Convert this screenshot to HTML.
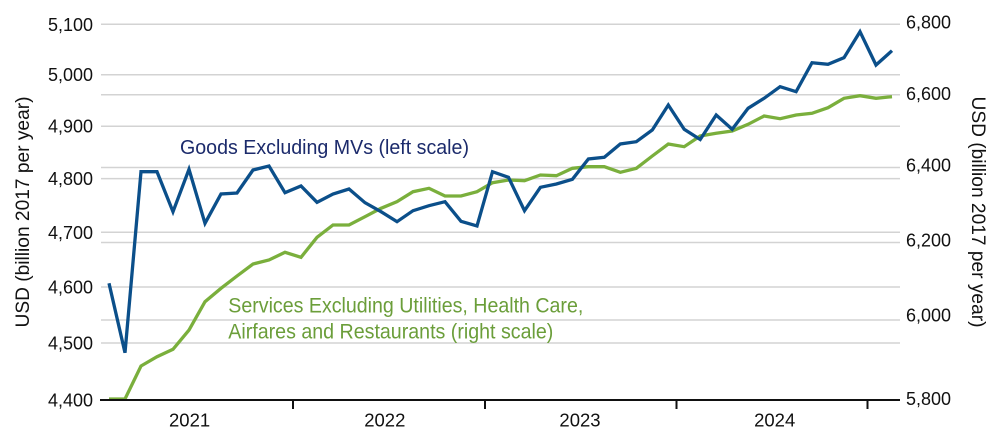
<!DOCTYPE html>
<html>
<head>
<meta charset="utf-8">
<style>
html,body{margin:0;padding:0;background:#fff;}
svg{display:block;}
text{font-family:"Liberation Sans",Arial,sans-serif;}
</style>
</head>
<body>
<svg width="1000" height="440" viewBox="0 0 1000 440" xmlns="http://www.w3.org/2000/svg">
  <!-- gridlines left scale -->
  <g stroke="#d3d3d3" stroke-width="1.5">
    <line x1="101" y1="24.3" x2="900" y2="24.3"/>
    <line x1="101" y1="74.7" x2="900" y2="74.7"/>
    <line x1="101" y1="126.2" x2="900" y2="126.2"/>
    <line x1="101" y1="178.6" x2="900" y2="178.6"/>
    <line x1="101" y1="232.3" x2="900" y2="232.3"/>
    <line x1="101" y1="287" x2="900" y2="287"/>
    <line x1="101" y1="343" x2="900" y2="343"/>
    <!-- right scale -->
    <line x1="101" y1="94.8" x2="900" y2="94.8"/>
    <line x1="101" y1="167.5" x2="900" y2="167.5"/>
    <line x1="101" y1="242.5" x2="900" y2="242.5"/>
    <line x1="101" y1="320" x2="900" y2="320"/>
  </g>

  <!-- green series -->
  <polyline fill="none" stroke="#7aaf3c" stroke-width="3.3" stroke-linejoin="miter" points="
109,399 125,399 141,366 157,356.7 173,349.3 189,330 205,301.7 221,288.3 237,276 253,264 269,260 285,252.3
301,257.3 317,237.3 333,225 349,225 365,216.7 381,208.3 397,201.7 413,191.7 429,188.3 445,196 461,196 477,191.7
492.5,182.7 508.5,180 524.5,180.7 540.4,175 556.4,175.7 572.4,168.3 588.4,166.7 604.3,166.7 620.3,172.3 636.3,168.3 652.3,156 668.3,144
684.2,146.7 700.2,136 716.2,133.3 732.2,131 748.1,124.3 764.1,116 780.1,118.7 796.1,115 812,113.3 828,107.7 844,98.3 860,95.7 876,98.3 892,96.7"/>

  <!-- blue series -->
  <polyline fill="none" stroke="#0b4f8a" stroke-width="3.3" stroke-linejoin="miter" stroke-miterlimit="6" points="
109,283.3 125,352.7 141,171.7 157,171.7 173,211.7 189,169.3 205,223.3 221,194 237,193 253,170 269,166 285,192.7
301,186 317,202.3 333,194 349,189 365,202.7 381,211.7 397,221.7 413,210.7 429,205.7 445,201.7 461,221.3 477,226
492.5,171.7 508.5,177.3 524.5,210.7 540.4,187.3 556.4,184 572.4,179.3 588.4,159 604.3,157.3 620.3,144 636.3,141.7 652.3,130 668.3,105
684.2,129.3 700.2,139.5 716.2,115 732.2,129.3 748.1,108.3 764.1,98.3 780.1,86.7 796.1,91.7 812,62.7 828,64.3 844,57.7 860,31.7 876,65 892,50.7"/>

  <!-- x axis -->
  <line x1="100" y1="400" x2="900" y2="400" stroke="#111" stroke-width="2"/>
  <g stroke="#111" stroke-width="2">
    <line x1="293" y1="400" x2="293" y2="409"/>
    <line x1="485" y1="400" x2="485" y2="409"/>
    <line x1="676.5" y1="400" x2="676.5" y2="409"/>
    <line x1="867.5" y1="400" x2="867.5" y2="409"/>
  </g>

  <!-- year labels -->
  <g font-size="18.5" fill="#111" text-anchor="middle">
    <text x="189.6" y="426.7">2021</text>
    <text x="384.8" y="426.7">2022</text>
    <text x="580" y="426.7">2023</text>
    <text x="774.7" y="426.7">2024</text>
  </g>

  <!-- left tick labels -->
  <g font-size="18" fill="#111" text-anchor="end">
    <text x="93" y="30.8">5,100</text>
    <text x="93" y="81.2">5,000</text>
    <text x="93" y="132.7">4,900</text>
    <text x="93" y="185.1">4,800</text>
    <text x="93" y="238.8">4,700</text>
    <text x="93" y="293.5">4,600</text>
    <text x="93" y="349.5">4,500</text>
    <text x="93" y="406.5">4,400</text>
  </g>

  <!-- right tick labels -->
  <g font-size="18" fill="#111" text-anchor="start">
    <text x="906" y="28.5">6,800</text>
    <text x="906" y="99.8">6,600</text>
    <text x="906" y="171.5">6,400</text>
    <text x="906" y="246.5">6,200</text>
    <text x="906" y="321.5">6,000</text>
    <text x="906" y="405">5,800</text>
  </g>

  <!-- axis titles -->
  <text transform="translate(29,212) rotate(-90)" font-size="19" fill="#111" text-anchor="middle" textLength="231" lengthAdjust="spacingAndGlyphs">USD (billion 2017 per year)</text>
  <text transform="translate(972,212) rotate(90)" font-size="19" fill="#111" text-anchor="middle" textLength="231" lengthAdjust="spacingAndGlyphs">USD (billion 2017 per year)</text>

  <!-- series labels -->
  <text x="180" y="154" font-size="20.5" fill="#1b2a6b" textLength="289" lengthAdjust="spacingAndGlyphs">Goods Excluding MVs (left scale)</text>
  <text x="228.3" y="312.3" font-size="21" fill="#6b9e3a" textLength="355" lengthAdjust="spacingAndGlyphs">Services Excluding Utilities, Health Care,</text>
  <text x="228.3" y="338.3" font-size="21" fill="#6b9e3a" textLength="325" lengthAdjust="spacingAndGlyphs">Airfares and Restaurants (right scale)</text>
</svg>
</body>
</html>
